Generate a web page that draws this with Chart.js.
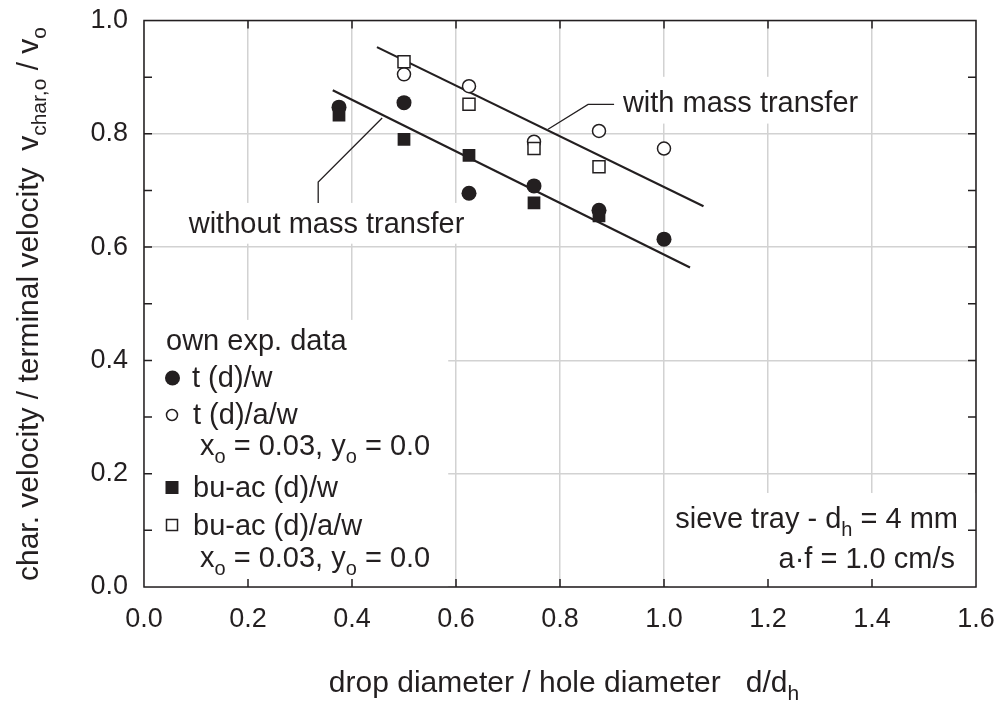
<!DOCTYPE html>
<html>
<head>
<meta charset="utf-8">
<script src="https://cdn.jsdelivr.net/npm/chart.js@4.4.1/dist/chart.umd.min.js"></script>
<style>
  html, body { margin: 0; padding: 0; background: #fff; }
  canvas { display: block; }
</style>
</head>
<body>
<canvas id="chart" width="1001" height="705"></canvas>
<script>
// ---- measured values: drop diameter / hole diameter vs. char. velocity ratio ----
const dRatio = [0.375, 0.5, 0.625, 0.75, 0.875, 1.0];
const tW     = [0.847, 0.855, 0.695, 0.708, 0.665, 0.614];   // t (d)/w
const tAW    = [null, 0.905, 0.884, 0.786, 0.805, 0.774];    // t (d)/a/w
const buW    = [0.833, 0.790, 0.762, 0.678, 0.655, null];    // bu-ac (d)/w
const buAW   = [null, 0.927, 0.852, 0.774, 0.742, null];     // bu-ac (d)/a/w

// ---- correlation lines ----
const withMTx    = [0.448, 1.076];
const withMTy    = [0.953, 0.672];
const withoutMTx = [0.363, 1.050];
const withoutMTy = [0.877, 0.564];

// ---- leader lines for the line labels (data units) ----
const leaderWithX    = [0.777, 0.854, 0.904];
const leaderWithY    = [0.808, 0.852, 0.852];
const leaderWithoutX = [0.458, 0.335, 0.335];
const leaderWithoutY = [0.828, 0.715, 0.678];

// ---- tick labels ----
const xTickLabels = ['0.0', '0.2', '0.4', '0.6', '0.8', '1.0', '1.2', '1.4', '1.6'];
const yTickLabels = ['0.0', '0.2', '0.4', '0.6', '0.8', '1.0'];

const FONT = '"Liberation Sans", Arial, Helvetica, sans-serif';
const INK = '#231f20';
const GRID = '#d2d2d2';
const TICK = 27;

const pts = (xs, ys) => xs.map((x, i) => ({ x: x, y: ys[i] })).filter(p => p.y !== null);

// draw a run of text pieces, some of them subscripted
function drawRich(ctx, parts, x, y, align, size) {
  size = size || 29;
  const sub = Math.round(size * 0.7);
  const fontOf = p => (p[1] ? sub : size) + 'px ' + FONT;
  let w = 0;
  parts.forEach(p => { ctx.font = fontOf(p); w += ctx.measureText(p[0]).width; });
  let cx = align === 'center' ? x - w / 2 : align === 'right' ? x - w : x;
  ctx.textAlign = 'left';
  ctx.textBaseline = 'alphabetic';
  parts.forEach(p => {
    ctx.font = fontOf(p);
    ctx.fillText(p[0], cx, p[1] ? y + size * 0.28 : y);
    cx += ctx.measureText(p[0]).width;
  });
}

const decorations = {
  id: 'decorations',
  beforeDatasetsDraw(chart) {
    const { ctx, scales: { x, y } } = chart;
    const X = v => x.getPixelForValue(v);
    const Y = v => y.getPixelForValue(v);
    ctx.save();
    // white panels behind the text blocks
    ctx.fillStyle = '#fff';
    const panel = (x0, x1, y0, y1) => ctx.fillRect(X(x0), Y(y1), X(x1) - X(x0), Y(y0) - Y(y1));
    panel(0, 0.585, 0, 0.4715);
    panel(1.008, 1.6, 0, 0.166);
    panel(0.069, 0.631, 0.606, 0.678);
    panel(0.906, 1.392, 0.818, 0.9006);

    // leader lines
    ctx.strokeStyle = INK;
    ctx.lineWidth = 1.3;
    [[leaderWithX, leaderWithY], [leaderWithoutX, leaderWithoutY]].forEach(([lx, ly]) => {
      ctx.beginPath();
      lx.forEach((v, i) => i ? ctx.lineTo(X(v), Y(ly[i])) : ctx.moveTo(X(v), Y(ly[i])));
      ctx.stroke();
    });

    ctx.fillStyle = INK;
    drawRich(ctx, [['with mass transfer']], X(0.921), Y(0.839), 'left');
    drawRich(ctx, [['without mass transfer']], X(0.351), Y(0.625), 'center');

    // legend block
    drawRich(ctx, [['own exp. data']], 166, 350, 'left');
    drawRich(ctx, [['t (d)/w']], 192, 387, 'left');
    drawRich(ctx, [['t (d)/a/w']], 193, 424, 'left');
    drawRich(ctx, [['x'], ['o', 1], [' = 0.03, y'], ['o', 1], [' = 0.0']], 200, 455, 'left');
    drawRich(ctx, [['bu-ac (d)/w']], 193, 497, 'left');
    drawRich(ctx, [['bu-ac (d)/a/w']], 193, 535, 'left');
    drawRich(ctx, [['x'], ['o', 1], [' = 0.03, y'], ['o', 1], [' = 0.0']], 200, 567, 'left');

    ctx.fillStyle = INK;
    ctx.strokeStyle = INK;
    ctx.beginPath(); ctx.arc(172.5, 378, 7.5, 0, Math.PI * 2); ctx.fill();
    ctx.lineWidth = 1.5;
    ctx.beginPath(); ctx.arc(172, 415, 5.5, 0, Math.PI * 2); ctx.stroke();
    ctx.fillRect(165.5, 481, 13, 13);
    ctx.strokeRect(166.5, 519.5, 11, 11);

    // tray conditions
    drawRich(ctx, [['sieve tray - d'], ['h', 1], [' = 4 mm']], 958, 528, 'right');
    drawRich(ctx, [['a\u00b7f = 1.0 cm/s']], 955, 568, 'right');
    ctx.restore();
  },
  afterDraw(chart) {
    const { ctx, chartArea: a, scales: { x, y } } = chart;
    ctx.save();
    ctx.strokeStyle = INK;
    ctx.lineWidth = 1.5;
    ctx.strokeRect(a.left, a.top, a.right - a.left, a.bottom - a.top);
    const tl = 8;
    ctx.beginPath();
    for (let i = 1; i < 8; i++) {
      const px = x.getPixelForValue(i * 0.2);
      ctx.moveTo(px, a.bottom); ctx.lineTo(px, a.bottom - tl);
      ctx.moveTo(px, a.top); ctx.lineTo(px, a.top + tl);
    }
    for (let j = 1; j < 10; j++) {
      const py = y.getPixelForValue(j * 0.1);
      ctx.moveTo(a.left, py); ctx.lineTo(a.left + tl, py);
      ctx.moveTo(a.right, py); ctx.lineTo(a.right - tl, py);
    }
    ctx.stroke();

    // axis titles
    ctx.fillStyle = INK;
    drawRich(ctx, [['drop diameter / hole diameter   d/d'], ['h', 1]], 564, 692, 'center', 30);
    ctx.translate(38, 304);
    ctx.rotate(-Math.PI / 2);
    drawRich(ctx, [['char. velocity / terminal velocity  v'], ['char,o', 1], [' / v'], ['o', 1]], 0, 0, 'center', 30);
    ctx.restore();
  }
};

new Chart(document.getElementById('chart'), {
  type: 'scatter',
  data: {
    datasets: [
      { label: 'bu-ac (d)/a/w', data: pts(dRatio, buAW), pointStyle: 'rect', pointRadius: 8.5,
        backgroundColor: '#fff', borderColor: INK, borderWidth: 1.5 },
      { label: 'bu-ac (d)/w', data: pts(dRatio, buW), pointStyle: 'rect', pointRadius: 9,
        backgroundColor: INK, borderColor: INK, borderWidth: 0 },
      { label: 't (d)/a/w', data: pts(dRatio, tAW), pointStyle: 'circle', pointRadius: 6.5,
        backgroundColor: '#fff', borderColor: INK, borderWidth: 1.5 },
      { label: 't (d)/w', data: pts(dRatio, tW), pointStyle: 'circle', pointRadius: 7.5,
        backgroundColor: INK, borderColor: INK, borderWidth: 0 },
      { label: 'with mass transfer', data: pts(withMTx, withMTy), showLine: true, pointRadius: 0,
        borderColor: INK, borderWidth: 2.2 },
      { label: 'without mass transfer', data: pts(withoutMTx, withoutMTy), showLine: true, pointRadius: 0,
        borderColor: INK, borderWidth: 2.2 }
    ]
  },
  options: {
    responsive: false,
    devicePixelRatio: 1,
    animation: false,
    layout: { padding: { top: 20.5, right: 25, left: 0, bottom: 0 } },
    plugins: { legend: { display: false }, tooltip: { enabled: false } },
    elements: { point: { hoverRadius: 0 } },
    scales: {
      x: {
        type: 'linear', min: 0, max: 1.6,
        border: { display: false },
        grid: { color: GRID, lineWidth: 1.5, drawTicks: false },
        ticks: { stepSize: 0.2, padding: 16.5, color: INK, font: { family: FONT, size: TICK },
                 callback: (v, i) => xTickLabels[i] },
        afterFit: s => { s.height = 118; s.paddingLeft = 0; s.paddingRight = 0; }
      },
      y: {
        type: 'linear', min: 0, max: 1.0,
        border: { display: false },
        grid: { color: GRID, lineWidth: 1.5, drawTicks: false },
        ticks: { stepSize: 0.2, padding: 16, color: INK, font: { family: FONT, size: TICK },
                 callback: (v, i) => yTickLabels[i] },
        afterFit: s => { s.width = 144; s.paddingTop = 0; s.paddingBottom = 0; }
      }
    }
  },
  plugins: [decorations]
});
</script>
</body>
</html>
